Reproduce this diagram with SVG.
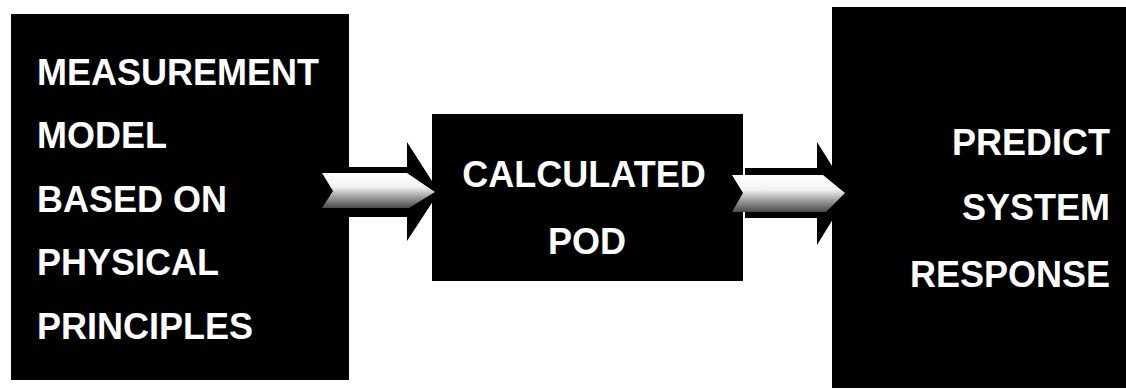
<svg xmlns="http://www.w3.org/2000/svg" width="1126" height="390" viewBox="0 0 1126 390">
  <style>
    .box { fill: #000; }
    .lbl { fill: #fff; font-family: "Liberation Sans", Arial, sans-serif; font-weight: bold; font-size: 36px; }
    .outline { fill: #000; }
    .body { fill: url(#arrowFill); }
  </style>
  <defs>
    <linearGradient id="arrowFill" x1="0" y1="0" x2="0" y2="1">
      <stop offset="0" stop-color="#ffffff"/>
      <stop offset="0.4" stop-color="#f2f2f2"/>
      <stop offset="0.7" stop-color="#9a9a9a"/>
      <stop offset="1" stop-color="#4a4a4a"/>
    </linearGradient>
  </defs>
  <rect width="1126" height="390" fill="#fff"/>

  <g id="node-measurement">
    <rect class="box" x="11" y="14" width="338" height="366"/>
    <text class="lbl" x="37" y="85">MEASUREMENT</text>
    <text class="lbl" x="37" y="148">MODEL</text>
    <text class="lbl" x="37" y="212">BASED ON</text>
    <text class="lbl" x="37" y="275">PHYSICAL</text>
    <text class="lbl" x="37" y="339">PRINCIPLES</text>
  </g>

  <g id="node-pod">
    <rect class="box" x="432" y="114" width="311" height="167"/>
    <text class="lbl" x="584" y="187" text-anchor="middle">CALCULATED</text>
    <text class="lbl" x="587" y="254" text-anchor="middle">POD</text>
  </g>

  <g id="node-predict">
    <rect class="box" x="832" y="7" width="294" height="381"/>
    <text class="lbl" x="1110" y="155" text-anchor="end">PREDICT</text>
    <text class="lbl" x="1110" y="220" text-anchor="end">SYSTEM</text>
    <text class="lbl" x="1110" y="287" text-anchor="end">RESPONSE</text>
  </g>

  <g id="connectors">
    <g id="arrow-1">
      <polygon class="outline" points="340,167 407,167 407,142 439,192 407,241 407,217 340,217"/>
      <polygon class="body" points="322,173 407,173 435,192 409,208 322,208 333,191"/>
    </g>
    <g id="arrow-2">
      <polygon class="outline" points="745,168 817,168 817,142 849,193 817,245 817,218 745,218"/>
      <polygon class="body" points="732,175 823,175 845,193 826,212 732,212 743,193"/>
    </g>
  </g>
</svg>
